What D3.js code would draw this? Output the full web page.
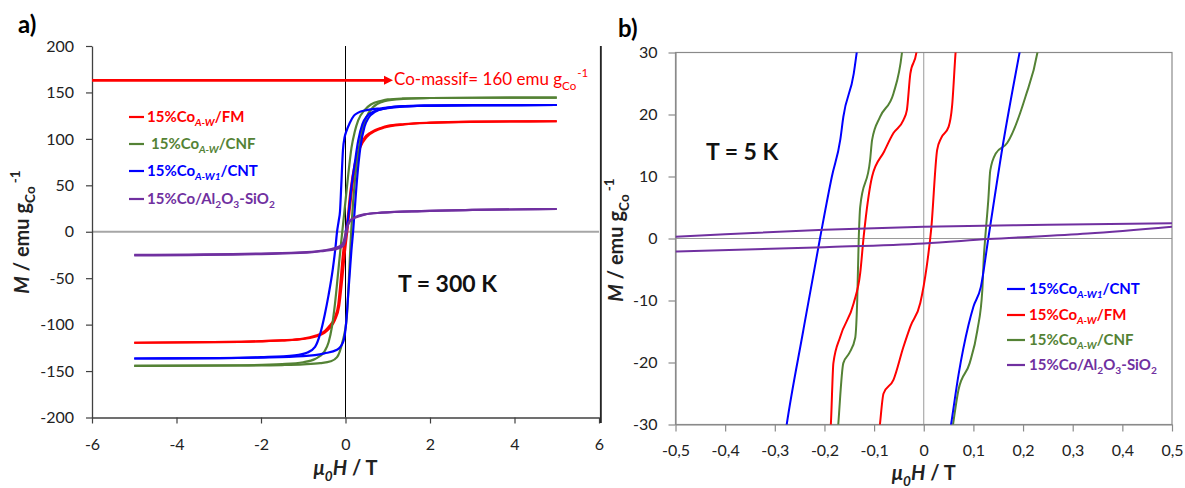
<!DOCTYPE html>
<html><head><meta charset="utf-8">
<script src="https://cdn.jsdelivr.net/npm/d3@7"></script>
<style>body{margin:0;background:#fff;} svg{display:block;font-family:Lato,"Open Sans",sans-serif;}</style>
</head><body><svg id="c" width="1185" height="488"></svg>
<script>
// ---------- DATA ----------
// Panel a (T = 300 K): [H (T), M (emu/gCo)], ordered by H
const fm300Down = [[-5,-119.5],[-2.5,-118.5],[-1.5,-117],[-1,-115],[-0.72,-112],[-0.55,-109],[-0.41,-103],[-0.25,-92],[-0.17,-78],[-0.12,-55],[-0.06,-24],[-0.02,-10],[0.04,10],[0.12,45],[0.22,73],[0.33,90],[0.45,101],[0.6,107],[0.85,112],[1,114],[1.4,116],[2,117.5],[3,118.5],[5,119]];
const fm300Up = [[-5,-119.5],[-2.5,-118.5],[-1.5,-117],[-1,-115.5],[-0.72,-113],[-0.5,-109],[-0.38,-104],[-0.25,-95],[-0.15,-80],[-0.08,-52],[-0.02,-24],[0.04,0],[0.1,24],[0.17,52],[0.25,76],[0.35,91],[0.5,102],[0.7,108.5],[0.9,112],[1.4,115.5],[2,117.3],[3,118.4],[5,119]];
const cnf300Down = [[-5,-144.5],[-2.5,-143.8],[-1.5,-142.5],[-1,-140.5],[-0.72,-137],[-0.5,-129],[-0.4,-119],[-0.32,-102],[-0.25,-78],[-0.17,-42],[-0.1,-10],[-0.03,20],[0.05,55],[0.14,90],[0.22,108],[0.3,120],[0.45,131],[0.6,137],[0.85,141],[1,142.5],[1.35,143.5],[2,144],[3,144.3],[5,144.5]];
const cnf300Up = [[-5,-144.5],[-2.5,-144],[-1.5,-143.5],[-1,-142.8],[-0.6,-141.5],[-0.35,-139.5],[-0.2,-135],[-0.08,-120],[0.03,-92],[0.08,-52],[0.12,-12],[0.15,12],[0.22,54],[0.3,85],[0.4,110],[0.5,124],[0.65,134],[0.85,139.5],[1.2,142.5],[2,144],[3,144.3],[5,144.5]];
const cnt300Down = [[-5,-136.5],[-3,-136],[-2,-135],[-1.2,-133],[-0.9,-130],[-0.72,-124],[-0.6,-110],[-0.49,-89],[-0.4,-68],[-0.3,-40],[-0.24,-18],[-0.2,0],[-0.16,12],[-0.13,22],[-0.1,50],[-0.06,88],[-0.02,102],[0.02,108],[0.1,117],[0.2,125],[0.29,128],[0.5,131],[0.85,133],[1.3,135],[2,135.8],[3,136.2],[5,136.5]];
const cnt300Up = [[-5,-136.5],[-3,-136.2],[-2,-135.5],[-1,-134],[-0.5,-131],[-0.2,-127],[-0.05,-118],[0.02,-96],[0.06,-70],[0.1,-45],[0.14,-20],[0.18,0],[0.22,25],[0.28,60],[0.35,90],[0.45,113],[0.55,123],[0.7,129],[0.9,132.5],[1.3,135],[2,135.8],[3,136.2],[5,136.5]];
const cnt300Virgin = [[0,0],[0.04,8],[0.08,22],[0.14,48],[0.22,74],[0.3,98],[0.4,116],[0.5,124],[0.7,130],[1,133],[1.5,135],[2.5,136],[5,136.5]];
const alsi300Down = [[-5,-25],[-2,-23.5],[-0.92,-22],[-0.5,-20],[-0.25,-17.5],[-0.1,-14.5],[-0.04,-10],[0,-2],[0.04,5],[0.1,11],[0.22,15.5],[0.45,18.7],[0.85,20.5],[1.8,22.3],[3,23.5],[5,24.5]];
const alsi300Up = [[-5,-25.5],[-2,-24],[-0.92,-22.6],[-0.5,-20.5],[-0.25,-19],[-0.06,-15.4],[-0.01,-10],[0.03,0],[0.06,8],[0.12,12.5],[0.22,15],[0.45,18.5],[0.85,20.5],[1.8,22.3],[3,23.5],[5,24.5]];
const coMassif = 163;

// Panel b (T = 5 K)
const cnt5Left = [[-0.285,-35],[-0.276,-30],[-0.243,-15],[-0.209,0],[-0.185,10],[-0.168,16],[-0.162,19.6],[-0.141,26.6],[-0.135,30],[-0.13,33]];
const cnt5Right = [[0.045,-35],[0.055,-30],[0.07,-22],[0.09,-14],[0.1,-11],[0.115,-7.8],[0.13,0],[0.16,15.4],[0.193,30],[0.2,33]];
const fm5Left = [[-0.19,-33],[-0.187,-29.8],[-0.182,-20.1],[-0.168,-15.8],[-0.141,-10.4],[-0.128,-5.6],[-0.121,0.3],[-0.104,10],[-0.08,14],[-0.061,17],[-0.041,19.1],[-0.034,20.7],[-0.027,26.6],[-0.015,29.9],[-0.01,33]];
const fm5Right = [[-0.092,-33],[-0.088,-29.8],[-0.081,-25],[-0.061,-22.8],[-0.041,-17.5],[-0.027,-14.2],[-0.007,-10.4],[0.006,-4.5],[0.015,1.5],[0.027,14.3],[0.035,16.2],[0.05,18],[0.057,21.3],[0.064,29.9],[0.067,33]];
const cnf5Left = [[-0.175,-33],[-0.172,-29.8],[-0.162,-20.1],[-0.15,-18.5],[-0.138,-16],[-0.134,-10],[-0.131,-0.2],[-0.128,5.1],[-0.108,12.7],[-0.104,15.9],[-0.088,19.6],[-0.061,23.4],[-0.044,29.9],[-0.04,33]];
const cnf5Right = [[0.05,-35],[0.059,-30],[0.07,-24.4],[0.0925,-20.1],[0.108,-14.8],[0.118,-8.3],[0.121,-3],[0.124,0.3],[0.13,6.2],[0.134,11],[0.145,13.7],[0.168,15.4],[0.205,22.9],[0.229,30],[0.235,33]];
const alsi5Upper = [[-0.5,0.3],[-0.4,0.7],[-0.2,1.4],[0,1.9],[0.25,2.2],[0.5,2.45]];
const alsi5Lower = [[-0.5,-2.1],[-0.2,-1.4],[0,-0.8],[0.13,-0.1],[0.33,0.8],[0.5,1.9]];

// Ticks
const xTicksA = [-6,-4,-2,0,2,4,6];
const yTicksA = [-200,-150,-100,-50,0,50,100,150,200];
const xTicksB = [-0.5,-0.4,-0.3,-0.2,-0.1,0,0.1,0.2,0.3,0.4,0.5];
const yTicksB = [-30,-20,-10,0,10,20,30];

// Colours
const RED = "#ff0000", GREEN = "#548235", BLUE = "#0000ff", PURPLE = "#7030a0";

// ---------- DRAW ----------
const svg = d3.select("#c");
const xA = d3.scaleLinear().domain([-6,6]).range([92,599]);
const yA = d3.scaleLinear().domain([-200,200]).range([417.5,46]);
const xB = d3.scaleLinear().domain([-0.5,0.5]).range([675.5,1172]);
const yB = d3.scaleLinear().domain([-30,30]).range([424.5,52.5]);

const fmtInt = d => String(d);
const fmtB = d => d === 0 ? "0" : (d < 0 ? "-" : "") + Math.abs(d).toFixed(1).replace(".", ",");

function rich(sel, parts, fs) {
  let shift = 0;
  parts.forEach(p => {
    const t = sel.append("tspan").text(p.t);
    let target = 0;
    if (p.sub) { target = fs * 0.28; t.attr("font-size", fs * 0.68); }
    if (p.sup) { target = -fs * 0.45; t.attr("font-size", fs * 0.68); }
    if (p.it) t.attr("font-style", "italic");
    if (p.dx) t.attr("dx", p.dx);
    if (target !== shift) t.attr("dy", target - shift);
    shift = target;
  });
}

// ===== Panel a =====
const ga = svg.append("g");
ga.append("line").attr("x1", xA(-6)).attr("x2", xA(6)).attr("y1", yA(0)).attr("y2", yA(0))
  .attr("stroke", "#a6a6a6").attr("stroke-width", 2);
ga.append("line").attr("x1", xA(0)).attr("x2", xA(0)).attr("y1", yA(200)).attr("y2", yA(-200))
  .attr("stroke", "#000").attr("stroke-width", 1);
ga.append("line").attr("x1", 600.5).attr("x2", 600.5).attr("y1", 46).attr("y2", 423)
  .attr("stroke", "#333").attr("stroke-width", 1.2);

const axLA = ga.append("g").attr("transform", `translate(${xA(-6)},0)`)
  .call(d3.axisLeft(yA).tickValues(yTicksA).tickFormat(fmtInt).tickSize(6).tickSizeOuter(0).tickPadding(12));
const axBA = ga.append("g").attr("transform", `translate(0,${yA(-200)})`)
  .call(d3.axisBottom(xA).tickValues(xTicksA).tickFormat(fmtInt).tickSize(6).tickSizeOuter(0));
[axLA, axBA].forEach(a => {
  a.select(".domain").attr("stroke", "#404040").attr("stroke-width", 1.3);
  a.selectAll(".tick line").attr("stroke", "#404040").attr("stroke-width", 1.2);
  a.selectAll("text").attr("font-size", 16).attr("fill", "#222").attr("font-family", "Lato");
});
axBA.selectAll("text").attr("y", 32.5).attr("dy", 0);

const lineA = d3.line().x(d => xA(d[0])).y(d => yA(d[1])).curve(d3.curveMonotoneX);
const seriesA = [
  [fm300Down, RED],[fm300Up, RED],
  [cnf300Down, GREEN],[cnf300Up, GREEN],
  [cnt300Down, BLUE],[cnt300Up, BLUE],[cnt300Virgin, BLUE],
  [alsi300Down, PURPLE],[alsi300Up, PURPLE]
];
seriesA.forEach(([d, c]) => ga.append("path").attr("d", lineA(d)).attr("fill", "none")
  .attr("stroke", c).attr("stroke-width", 2.2).attr("stroke-linejoin", "round"));

// red arrow
const ay = yA(coMassif);
ga.append("line").attr("x1", xA(-6)).attr("x2", 386).attr("y1", ay).attr("y2", ay)
  .attr("stroke", RED).attr("stroke-width", 2.6);
ga.append("path").attr("d", `M393,${ay} L384,${ay-4.5} L384,${ay+4.5} Z`).attr("fill", RED);
const at = ga.append("text").attr("x", 394).attr("y", 85).attr("font-size", 17).attr("fill", RED);
rich(at, [{t:"Co-massif= 160 emu g"},{t:"Co",sub:1},{t:"-1",sup:1,dx:1}], 17);

// legend a
const legA = [
  {c: RED, y: 117, x: 147, parts: [{t:"15%Co"},{t:"A-W",sub:1,it:1},{t:"/FM"}]},
  {c: GREEN, y: 144, x: 151, parts: [{t:"15%Co"},{t:"A-W",sub:1,it:1},{t:"/CNF"}]},
  {c: BLUE, y: 171, x: 147, parts: [{t:"15%Co"},{t:"A-W1",sub:1,it:1},{t:"/CNT"}]},
  {c: PURPLE, y: 199, x: 147, parts: [{t:"15%Co/Al"},{t:"2",sub:1},{t:"O"},{t:"3",sub:1},{t:"-SiO"},{t:"2",sub:1}]}
];
legA.forEach(l => {
  ga.append("line").attr("x1", 129).attr("x2", 144).attr("y1", l.y).attr("y2", l.y)
    .attr("stroke", l.c).attr("stroke-width", 2.2);
  const t = ga.append("text").attr("x", l.x).attr("y", l.y + 5).attr("font-size", 15)
    .attr("font-weight", "bold").attr("fill", l.c);
  rich(t, l.parts, 15);
});

ga.append("text").attr("x", 398).attr("y", 292).attr("font-size", 23).attr("font-weight", "bold")
  .attr("fill", "#111").text("T = 300 K");
ga.append("text").attr("x", 18).attr("y", 33).attr("font-size", 24).attr("font-weight", "bold").text("a)");

const xtA = ga.append("text").attr("x", xA(0)).attr("y", 475).attr("text-anchor", "middle")
  .attr("font-size", 20).attr("font-weight", "bold").attr("fill", "#222");
rich(xtA, [{t:"μ",it:1},{t:"0",sub:1,it:1},{t:"H",it:1},{t:" / T"}], 20);
const ytA = ga.append("text").attr("transform", "translate(29,232) rotate(-90)").attr("text-anchor", "middle")
  .attr("font-size", 20).attr("font-weight", "bold").attr("fill", "#222");
rich(ytA, [{t:"M",it:1},{t:" / emu g"},{t:"Co",sub:1},{t:"-1",sup:1,dx:3}], 20);

// ===== Panel b =====
const gb = svg.append("g");
gb.append("defs").append("clipPath").attr("id", "clipB").append("rect")
  .attr("x", xB(-0.5)).attr("y", yB(30)).attr("width", xB(0.5) - xB(-0.5)).attr("height", yB(-30) - yB(30));
gb.append("line").attr("x1", xB(-0.5)).attr("x2", xB(0.5)).attr("y1", yB(0)).attr("y2", yB(0))
  .attr("stroke", "#9a9a9a").attr("stroke-width", 1);
gb.append("line").attr("x1", xB(0)).attr("x2", xB(0)).attr("y1", yB(30)).attr("y2", yB(-30))
  .attr("stroke", "#9a9a9a").attr("stroke-width", 1);
gb.append("rect").attr("x", xB(-0.5)).attr("y", yB(30)).attr("width", xB(0.5) - xB(-0.5))
  .attr("height", yB(-30) - yB(30)).attr("fill", "none").attr("stroke", "#8a8a8a").attr("stroke-width", 1.2);

const axLB = gb.append("g").attr("transform", `translate(${xB(-0.5)},0)`)
  .call(d3.axisLeft(yB).tickValues(yTicksB).tickFormat(fmtInt).tickSize(7).tickSizeOuter(0).tickPadding(11));
const axBB = gb.append("g").attr("transform", `translate(0,${yB(-30)})`)
  .call(d3.axisBottom(xB).tickValues(xTicksB).tickFormat(fmtB).tickSize(7).tickSizeOuter(0));
[axLB, axBB].forEach(a => {
  a.select(".domain").attr("stroke", "#8a8a8a").attr("stroke-width", 1.2);
  a.selectAll(".tick line").attr("stroke", "#8a8a8a").attr("stroke-width", 1.2);
  a.selectAll("text").attr("font-size", 16).attr("fill", "#222").attr("font-family", "Lato");
});
axBB.selectAll("text").attr("y", 31.5).attr("dy", 0);

// left boundary line of panel b image
gb.append("line").attr("x1", 601).attr("x2", 601).attr("y1", 46).attr("y2", 423)
  .attr("stroke", "#222").attr("stroke-width", 1.5);

const lineB = d3.line().x(d => xB(d[0])).y(d => yB(d[1])).curve(d3.curveMonotoneX);
const curvesB = gb.append("g").attr("clip-path", "url(#clipB)");
const seriesB = [
  [cnf5Left, GREEN],[cnf5Right, GREEN],
  [fm5Left, RED],[fm5Right, RED],
  [cnt5Left, BLUE],[cnt5Right, BLUE],
  [alsi5Upper, PURPLE],[alsi5Lower, PURPLE]
];
seriesB.forEach(([d, c]) => curvesB.append("path").attr("d", lineB(d)).attr("fill", "none")
  .attr("stroke", c).attr("stroke-width", 2).attr("stroke-linejoin", "round"));

const legB = [
  {c: BLUE, y: 289, parts: [{t:"15%Co"},{t:"A-W1",sub:1,it:1},{t:"/CNT"}]},
  {c: RED, y: 315, parts: [{t:"15%Co"},{t:"A-W",sub:1,it:1},{t:"/FM"}]},
  {c: GREEN, y: 340, parts: [{t:"15%Co"},{t:"A-W",sub:1,it:1},{t:"/CNF"}]},
  {c: PURPLE, y: 365, parts: [{t:"15%Co/Al"},{t:"2",sub:1},{t:"O"},{t:"3",sub:1},{t:"-SiO"},{t:"2",sub:1}]}
];
legB.forEach(l => {
  gb.append("line").attr("x1", 1007).attr("x2", 1025).attr("y1", l.y).attr("y2", l.y)
    .attr("stroke", l.c).attr("stroke-width", 2.2);
  const t = gb.append("text").attr("x", 1029).attr("y", l.y + 5).attr("font-size", 15)
    .attr("font-weight", "bold").attr("fill", l.c);
  rich(t, l.parts, 15);
});

gb.append("text").attr("x", 706).attr("y", 160).attr("font-size", 23).attr("font-weight", "bold")
  .attr("fill", "#111").text("T = 5 K");
gb.append("text").attr("x", 618).attr("y", 37).attr("font-size", 24).attr("font-weight", "bold").text("b)");

const xtB = gb.append("text").attr("x", xB(0)).attr("y", 480).attr("text-anchor", "middle")
  .attr("font-size", 20).attr("font-weight", "bold").attr("fill", "#222");
rich(xtB, [{t:"μ",it:1},{t:"0",sub:1,it:1},{t:"H",it:1},{t:" / T"}], 20);
const ytB = gb.append("text").attr("transform", "translate(623,240) rotate(-90)").attr("text-anchor", "middle")
  .attr("font-size", 20).attr("font-weight", "bold").attr("fill", "#222");
rich(ytB, [{t:"M",it:1},{t:" / emu g"},{t:"Co",sub:1},{t:"-1",sup:1,dx:3}], 20);
</script></body></html>
